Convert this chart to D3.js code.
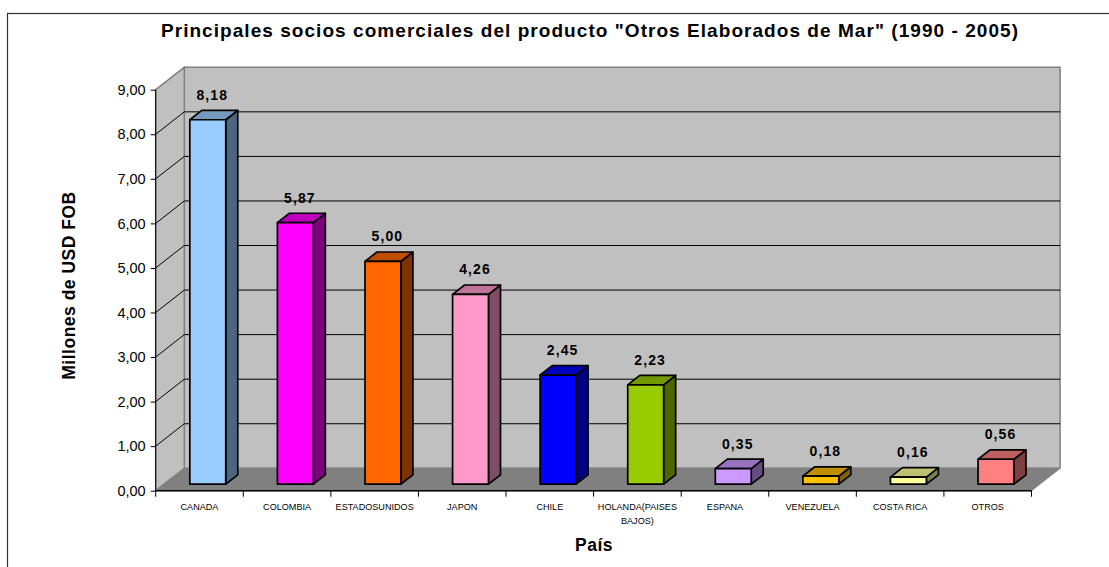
<!DOCTYPE html>
<html><head><meta charset="utf-8">
<script src="https://cdn.jsdelivr.net/npm/d3@7"></script>
<style>html,body{margin:0;padding:0;background:#fff;overflow:hidden}svg{display:block}text{font-family:"Liberation Sans",Arial,sans-serif;fill:#000}</style>
</head><body><svg id="c" width="1109" height="567"></svg>
<script>
const titleText='Principales socios comerciales del producto "Otros Elaborados de Mar" (1990 - 2005)';
const xTitle='País', yTitle='Millones de USD FOB';
const categories=["CANADA","COLOMBIA","ESTADOSUNIDOS","JAPON","CHILE","HOLANDA(PAISES BAJOS)","ESPANA","VENEZUELA","COSTA RICA","OTROS"];
const values=[8.18,5.87,5.00,4.26,2.45,2.23,0.35,0.18,0.16,0.56];
const labels=["8,18","5,87","5,00","4,26","2,45","2,23","0,35","0,18","0,16","0,56"];
const colors=["#99CCFF","#FF00FF","#FF6600","#FF99CC","#0000FF","#99CC00","#CC99FF","#FFC000","#FFFF99","#FF8080"];
const yTicks=[0,1,2,3,4,5,6,7,8,9];

const svg=d3.select("#c");
const L=155.7,R=1031.5,B=490.7,T=89.7,DX=28.6,DY=22.4;
const x=d3.scaleBand().domain(categories).range([L,R]);
const y=d3.scaleLinear().domain([0,9]).range([B,T]);
const fmt=v=>d3.format(".2f")(v).replace(".",",");
const pts=a=>a.map(p=>p.join(",")).join(" ");

svg.append("rect").attr("x",7.5).attr("y",13.5).attr("width",1120).attr("height",600).attr("fill","#fff").attr("stroke","#333").attr("stroke-width",1.2);

// walls
const wall="#808080";
svg.append("polygon").attr("points",pts([[L+DX,y(9)-DY],[R+DX,y(9)-DY],[R+DX,B-DY],[L+DX,B-DY]])).attr("fill","#C0C0C0").attr("stroke",wall).attr("stroke-width",1.5);
svg.append("polygon").attr("points",pts([[L,y(9)],[L+DX,y(9)-DY],[L+DX,B-DY],[L,B]])).attr("fill","#C0C0C0").attr("stroke",wall).attr("stroke-width",1.5);
svg.append("polygon").attr("points",pts([[L,B],[L+DX,B-DY],[R+DX,B-DY],[R,B]])).attr("fill","#808080").attr("stroke",wall);

// gridlines
const grid=yTicks.filter(d=>d>0&&d<9);
svg.append("g").selectAll("polyline").data(grid).join("polyline")
 .attr("points",d=>pts([[L,y(d)],[L+DX,y(d)-DY],[R+DX,y(d)-DY]]))
 .attr("fill","none").attr("stroke","#000").attr("stroke-width",1);

// bars
const f0=0.29,f1=0.71,bw=0.41;
const bars=svg.append("g").selectAll("g").data(categories.map((c,i)=>({c,v:values[i],col:colors[i],lab:labels[i]}))).join("g");
bars.each(function(d){
 const g=d3.select(this);
 const cx=x(d.c)+x.bandwidth()/2, hw=x.bandwidth()*bw/2;
 const x0=cx-hw+DX*f0, x1=cx+hw+DX*f0, dx=DX*(f1-f0), dy=DY*(f1-f0);
 const yb=y(0)-DY*f0, yt=y(d.v)-DY*f0;
 const c=d3.color(d.col);
 const shade=k=>d3.rgb(c.r*k,c.g*k,c.b*k).formatHex();
 const st=s=>s.attr("stroke","#000").attr("stroke-width",1.7).attr("stroke-linejoin","round");
 st(g.append("polygon").attr("points",pts([[x1,yb],[x1+dx,yb-dy],[x1+dx,yt-dy],[x1,yt]])).attr("fill",shade(.5)));
 st(g.append("polygon").attr("points",pts([[x0,yt],[x0+dx,yt-dy],[x1+dx,yt-dy],[x1,yt]])).attr("fill",shade(.75)));
 st(g.append("polygon").attr("points",pts([[x0,yt],[x1,yt],[x1,yb],[x0,yb]])).attr("fill",d.col));
 g.append("text").attr("x",cx+DX*f0+4.5).attr("y",yt-20).attr("text-anchor","middle")
  .attr("font-size",14).attr("font-weight","bold").attr("letter-spacing",1.1).text(d.lab);
});

// y axis
const ya=d3.axisLeft(y).tickValues(yTicks).tickFormat(fmt).tickSize(5).tickPadding(5);
const gy=svg.append("g").attr("transform",`translate(${L},0)`).call(ya);
gy.selectAll("text").attr("font-size",14.5).style("font-family",'"Liberation Sans",Arial,sans-serif').attr("fill","#222");
gy.selectAll("line,path").attr("stroke","#000");
gy.select("path").attr("d",`M0,${T}V${B}`);

// x axis
const xa=d3.axisBottom(x).tickSize(0).tickPadding(13).tickFormat("");
const gx=svg.append("g").attr("transform",`translate(0,${B})`).call(xa);
gx.select("path").attr("stroke","#000").attr("stroke-width",1.4).attr("d",`M${L},0H${R}`);
const edges=d3.range(categories.length).map(i=>x(categories[i])).concat([R]);
gx.append("g").selectAll("line").data(edges).join("line").attr("x1",d=>d).attr("x2",d=>d).attr("y1",0).attr("y2",6).attr("stroke","#000");
const wrap={"HOLANDA(PAISES BAJOS)":["HOLANDA(PAISES","BAJOS)"]};
gx.selectAll(".tick").each(function(c){
 const t=d3.select(this).select("text").text(null).attr("font-size",9.1).attr("fill","#222").attr("y",19).attr("dy",0).style("font-family",'"Liberation Sans",Arial,sans-serif');
 (wrap[c]||[c]).forEach((s,i)=>t.append("tspan").attr("x",0).attr("dy",i?14:0).text(s));
});

// titles
svg.append("text").attr("x",590).attr("y",37).attr("text-anchor","middle").attr("font-size",19).attr("font-weight","bold").attr("letter-spacing",1.05).text(titleText);
svg.append("text").attr("x",594).attr("y",551).attr("text-anchor","middle").attr("font-size",17.5).attr("font-weight","bold").attr("letter-spacing",.5).text(xTitle);
svg.append("text").attr("transform","translate(75,285.5) rotate(-90)").attr("text-anchor","middle").attr("font-size",17.5).attr("font-weight","bold").attr("letter-spacing",.5).text(yTitle);
</script></body></html>
